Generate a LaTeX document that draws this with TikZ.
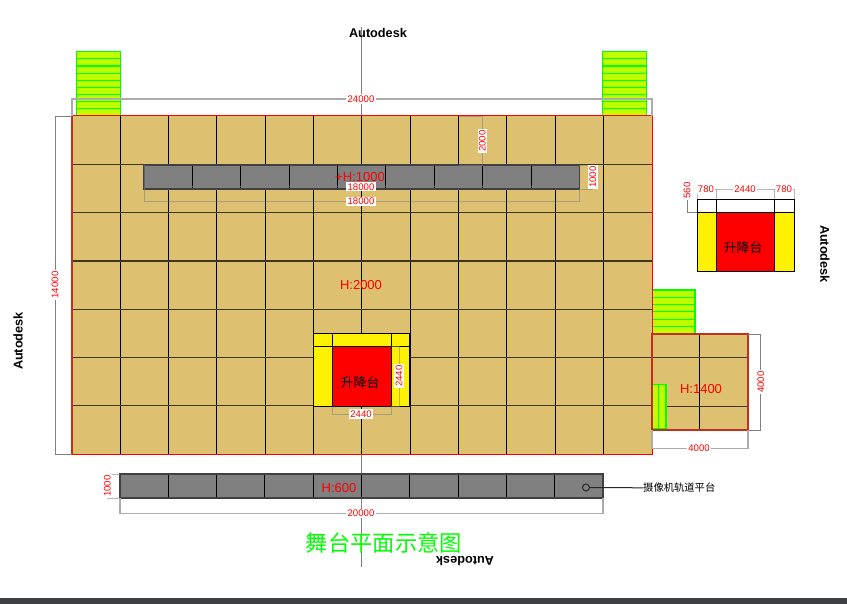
\documentclass[tikz,border=0pt]{standalone}
\usepackage{fontspec}
\setmainfont{Liberation Sans}
\newfontfamily\cjk{Noto Sans CJK SC}
\definecolor{stagetan}{HTML}{DDC070}
\definecolor{stairgreen}{HTML}{BFFF00}
\definecolor{footbar}{HTML}{3C4045}
\definecolor{edgered}{HTML}{C0301C}
\tikzset{
  cellline/.style={black,line width=1pt},
  rowline/.style={black!72!stagetan,line width=1.3pt},
  stagebox/.style={draw=red,line width=1pt},
  stairbox/.style={fill=stairgreen,draw=green,line width=1.1pt},
  dimline/.style={gray,line width=.9pt},
  dimfaint/.style={gray,opacity=.55,line width=.9pt},
  dimwide/.style={gray!65,line width=1.5pt},
  dimtext/.style={fill=white,text=red,inner sep=1.4pt,font=\fontsize{9.6}{10}\selectfont},
  heighttext/.style={text=red,inner sep=0pt,font=\fontsize{13}{14}\selectfont},
  sidetext/.style={inner sep=0pt,font=\bfseries\fontsize{12.7}{14}\selectfont},
  lifttext/.style={inner sep=0pt,font=\cjk\fontsize{13}{14}\selectfont},
}
\begin{document}
\begin{tikzpicture}[x=1pt,y=-1pt]
\useasboundingbox (0,0) rectangle (847,604);
\fill[footbar] (0,598.3) rectangle (847,604);
% centre axis
\draw[dimline] (361.7,27) -- (361.7,567);
% stairs
\foreach \x in {76.5,602.5} {
  \draw[stairbox] (\x,51.7) rectangle (\x+44,116);
  \foreach \i in {1,...,8} \draw[green,line width=1.1pt] (\x,51.7+7.15*\i) -- (\x+44,51.7+7.15*\i);
}
\draw[stairbox] (652,290) rectangle (695,334);
\foreach \i in {1,...,5} \draw[green,line width=1.1pt] (652,290+7.3*\i) -- (695,290+7.3*\i);
% main stage
\fill[stagetan] (72,116) rectangle (652,454);
\foreach \i in {1,...,11} \draw[cellline] (72+48.33*\i,116) -- (72+48.33*\i,454);
\foreach \i in {1,...,6} \draw[rowline] (72,116+48.29*\i) -- (652,116+48.29*\i);
\draw[stagebox] (72,116) rectangle (652,454);
\draw[edgered,line width=1.7pt] (72,116) -- (72,454);
% side stage
\fill[stagetan] (652,334) rectangle (748,430);
\draw[cellline] (699.7,334) -- (699.7,430);
\draw[rowline] (652,357.7) -- (748,357.7);
\draw[rowline] (652,406.3) -- (748,406.3);
\draw[stairbox] (652,384.3) rectangle (666,428.5);
\draw[green,line width=1.1pt] (658.7,384.3) -- (658.7,428.5);
\draw[edgered,line width=1.2pt] (652,334) rectangle (748,430);
% grey strips
\fill[gray] (144,165) rectangle (579.5,189);
\foreach \i in {1,...,8} \draw[cellline] (144+48.39*\i,165) -- (144+48.39*\i,189);
\draw[black!75,line width=1.2pt] (144,165) rectangle (579.5,189);
\fill[gray] (120,474) rectangle (603,498);
\foreach \i in {1,...,9} \draw[cellline] (120+48.3*\i,474) -- (120+48.3*\i,498);
\draw[black!75,line width=1.2pt] (120,474) rectangle (603,498);
% centre lift
\fill[yellow] (313.3,333.3) rectangle (409.3,406);
\fill[red] (332,346.7) rectangle (391,406);
\draw[cellline] (313.3,333.3) rectangle (409.3,406);
\draw[cellline] (313.3,346.7) -- (409.3,346.7);
\draw[cellline] (332,333.3) -- (332,406);
\draw[cellline] (391,333.3) -- (391,406);
% right lift
\fill[yellow] (697.3,212.7) rectangle (794,271.7);
\fill[red] (716,212.7) rectangle (774.7,271.7);
\draw[cellline] (697.3,199.3) rectangle (794,271.7);
\draw[cellline] (697.3,212.7) -- (794,212.7);
\draw[cellline] (716,199.3) -- (716,271.7);
\draw[cellline] (774.7,199.3) -- (774.7,271.7);
% dimensions
\draw[dimwide] (72,116) -- (72,99) -- (652,99) -- (652,116);
\draw[dimline] (72,116) -- (55.5,116) -- (55.5,454) -- (72,454);
\draw[dimfaint] (144,165) -- (144,201.3) -- (579,201.3) -- (579,189);
\draw[dimfaint] (144,186.7) -- (579,186.7);
\draw[dimfaint] (459,116) -- (482.3,116) -- (482.3,165) -- (459,165);
\draw[dimfaint] (579,165) -- (592.7,165) -- (592.7,189) -- (579,189);
\draw[dimfaint] (120,474) -- (107.3,474) -- (107.3,498) -- (120,498);
\draw[dimwide] (120,498) -- (120,513.3) -- (603,513.3) -- (603,498);
\draw[dimfaint] (332,406) -- (332,414) -- (391,414) -- (391,406);
\draw[dimfaint] (391,346.7) -- (399,346.7) -- (399,406) -- (391,406);
\draw[dimline] (748,334) -- (760.7,334) -- (760.7,430) -- (748,430);
\draw[dimwide] (652,430) -- (652,448.3) -- (748,448.3) -- (748,430);
\draw[dimfaint] (697.3,199.3) -- (697.3,189.3) -- (794,189.3) -- (794,199.3);
\draw[dimfaint] (716,189.3) -- (716,199.3);
\draw[dimfaint] (774.7,189.3) -- (774.7,199.3);
\draw[dimline] (697.3,212.7) -- (687,212.7) -- (687,199.3);
\node[dimtext] (dimtop) at (361,99) {24000};
\node[dimtext,rotate=90] (dimleft) at (55,285) {14000};
\node[dimtext] (dimstripa) at (361,186.7) {18000};
\node[dimtext] (dimstripb) at (361,201.3) {18000};
\node[dimtext,rotate=90] (dimgap) at (482.3,141) {2000};
\node[dimtext,rotate=90] (dimstripw) at (592.7,177) {1000};
\node[dimtext,rotate=90] (dimrailw) at (107.3,486) {1000};
\node[dimtext] (dimrail) at (361,513.3) {20000};
\node[dimtext] (dimlifta) at (361,414) {2440};
\node[dimtext,rotate=90] (dimliftb) at (399,376) {2440};
\node[dimtext,rotate=90] (dimsidea) at (760.7,382) {4000};
\node[dimtext] (dimsideb) at (699,448.3) {4000};
\node[dimtext] (dimrighta) at (706,189.3) {780};
\node[dimtext] (dimrightb) at (745,189.3) {2440};
\node[dimtext] (dimrightc) at (784,189.3) {780};
\node[dimtext,rotate=90] (dimrightd) at (687,190.5) {560};
% heights
\node[heighttext] (hstrip) at (360,177) {+H:1000};
\node[heighttext] (hstage) at (361,285) {H:2000};
\node[heighttext] (hside) at (701,389) {H:1400};
\node[heighttext] (hrail) at (339,488) {H:600};
% lifts
\node[lifttext] (liftcentre) at (360,383) {升降台};
\node[lifttext] (liftright) at (743,248) {升降台};
% camera rail
\node[draw=black!85,circle,inner sep=0pt,minimum size=7pt,line width=1pt] (camdot) at (586,487.5) {};
\node[anchor=west,inner sep=0pt,font=\cjk\fontsize{10.3}{12}\selectfont] (camlabel) at (643,488) {摄像机轨道平台};
\draw[black!85,line width=1pt] (camdot) -- (camlabel);
% titles
\node[inner sep=0pt,text=green,font=\cjk\fontsize{22.3}{24}\selectfont] (plantitle) at (384,543) {舞台平面示意图};
\node[sidetext] (sidetop) at (378,33) {Autodesk};
\node[sidetext,rotate=90] (sideleft) at (18,341) {Autodesk};
\node[sidetext,rotate=-90] (sideright) at (825,254) {Autodesk};
\node[sidetext,rotate=180] (sidebottom) at (465,561.5) {Autodesk};
\end{tikzpicture}
\end{document}
